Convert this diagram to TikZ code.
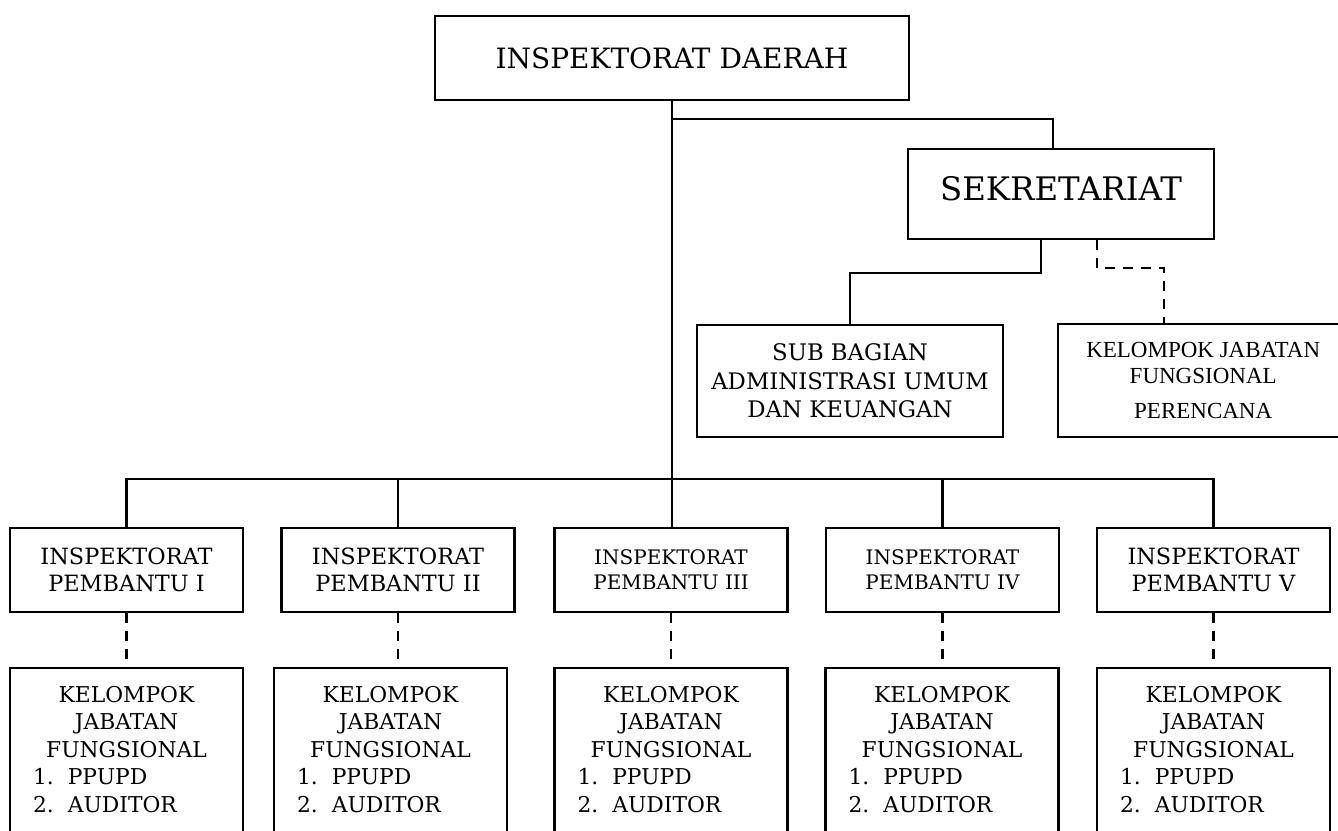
\documentclass[tikz,border=0pt]{standalone}
\usepackage{fontspec}
\setmainfont{DejaVu Serif}
\newfontfamily\kjffont{Liberation Serif}
\usepackage{tikz}

\begin{document}
\begin{tikzpicture}[x=0.5pt, y=-0.5pt, line width=1.2pt,
      box/.style = {draw, rectangle, align=center, inner sep=0pt},
      unit/.style = {box, minimum width=116.5pt, minimum height=42pt,
        font=\fontsize{11.2}{13.5}\selectfont},
      smallunit/.style = {font=\fontsize{10}{12.5}\selectfont},
      fungsi/.style = {box, anchor=north, text width=93.5pt, inner xsep=11.5pt,
        inner ysep=9pt, font=\fontsize{10.9}{13.75}\selectfont},
      link/.style = {dash pattern=on 5pt off 4pt}]

    \useasboundingbox (0,0) rectangle (1338,830);
    \clip (0,0) rectangle (1338,830);

    \node[box, minimum width=237pt, minimum height=42pt,
      font=\fontsize{14}{17}\selectfont] (daerah) at (672,58) {INSPEKTORAT DAERAH};
    \node[box, minimum width=153pt, minimum height=45pt, text depth=6pt,
      font=\fontsize{16.2}{19}\selectfont] (sekr) at (1061,194) {SEKRETARIAT};
    \node[box, minimum width=153pt, minimum height=56pt,
      font=\fontsize{11.4}{14.3}\selectfont] (sub) at (850,381) {SUB BAGIAN\\ ADMINISTRASI UMUM\\ DAN KEUANGAN};
    \node[box, anchor=west, minimum width=145pt, minimum height=56.5pt,
      font=\kjffont\fontsize{11.5}{13}\selectfont] (kjf) at (1057,380.5)
      {KELOMPOK JABATAN\\ FUNGSIONAL\\[4.5pt] PERENCANA};

    \node[unit] (pb1) at (126.5,570) {INSPEKTORAT\\ PEMBANTU I};
    \node[unit] (pb2) at (398,570) {INSPEKTORAT\\ PEMBANTU II};
    \node[unit, smallunit] (pb3) at (671,570) {INSPEKTORAT\\ PEMBANTU III};
    \node[unit, smallunit] (pb4) at (942.5,570) {INSPEKTORAT\\ PEMBANTU IV};
    \node[unit] (pb5) at (1213.5,570) {INSPEKTORAT\\ PEMBANTU V};

    \node[fungsi] (kf1) at (126.5,667) {KELOMPOK\\ JABATAN\\ FUNGSIONAL\\
      1.\hspace{7pt}PPUPD\hfill\null\\ 2.\hspace{7pt}AUDITOR\hfill\null\\[40pt]\mbox{}};
    \node[fungsi] (kf2) at (390.5,667) {KELOMPOK\\ JABATAN\\ FUNGSIONAL\\
      1.\hspace{7pt}PPUPD\hfill\null\\ 2.\hspace{7pt}AUDITOR\hfill\null\\[40pt]\mbox{}};
    \node[fungsi] (kf3) at (671,667) {KELOMPOK\\ JABATAN\\ FUNGSIONAL\\
      1.\hspace{7pt}PPUPD\hfill\null\\ 2.\hspace{7pt}AUDITOR\hfill\null\\[40pt]\mbox{}};
    \node[fungsi] (kf4) at (942,667) {KELOMPOK\\ JABATAN\\ FUNGSIONAL\\
      1.\hspace{7pt}PPUPD\hfill\null\\ 2.\hspace{7pt}AUDITOR\hfill\null\\[40pt]\mbox{}};
    \node[fungsi] (kf5) at (1213.5,667) {KELOMPOK\\ JABATAN\\ FUNGSIONAL\\
      1.\hspace{7pt}PPUPD\hfill\null\\ 2.\hspace{7pt}AUDITOR\hfill\null\\[40pt]\mbox{}};

    \draw (daerah.south) -- (daerah.south |- pb3.north);
    \draw ([yshift=-9pt]daerah.south) -| ([xshift=-4pt]sekr.north);
    \draw ([xshift=-10pt]sekr.south) -- ++(0,33) -| (sub.north);
    \draw[link] ([xshift=18pt]sekr.south) -- ++(0,28) -| ([xshift=-19.5pt]kjf.north);

    \draw (pb1.north) -- ++(0,-48) -| (pb5.north);
    \draw (pb2.north) -- ++(0,-48);
    \draw (pb4.north) -- ++(0,-48);

    \draw[link] (pb1.south) -- (pb1.south |- kf1.north);
    \draw[link] (pb2.south) -- (pb2.south |- kf2.north);
    \draw[link] (pb3.south) -- (pb3.south |- kf3.north);
    \draw[link] (pb4.south) -- (pb4.south |- kf4.north);
    \draw[link] (pb5.south) -- (pb5.south |- kf5.north);
\end{tikzpicture}
\end{document}
